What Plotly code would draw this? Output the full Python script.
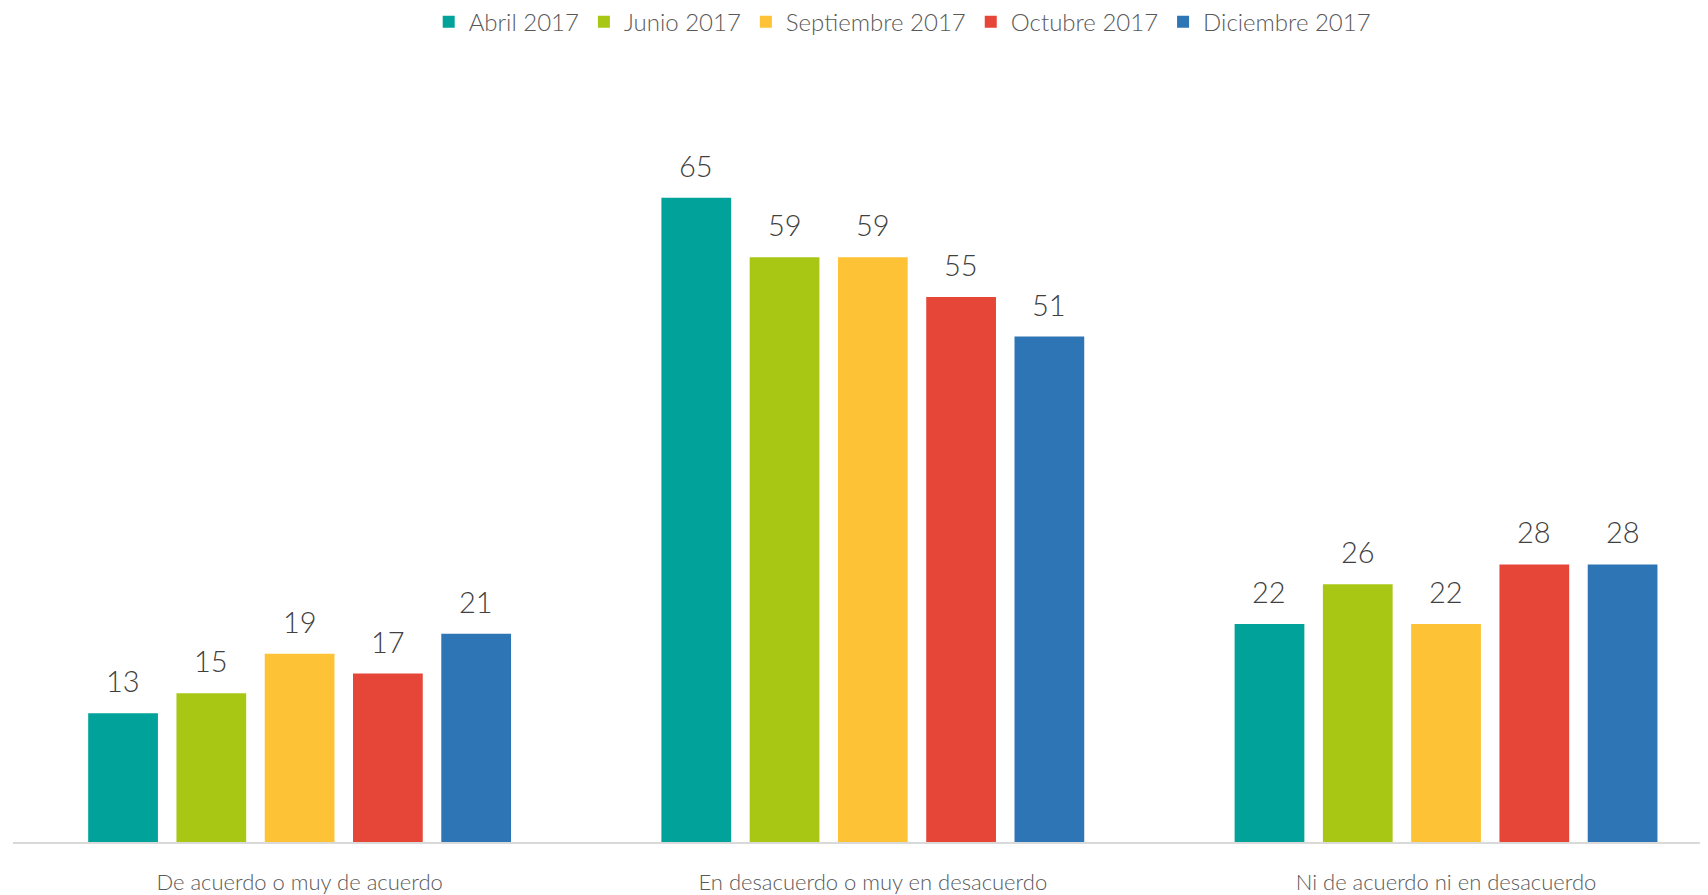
import plotly.graph_objects as go

categories = ["De acuerdo o muy de acuerdo", "En desacuerdo o muy en desacuerdo", "Ni de acuerdo ni en desacuerdo"]
series_names = ["Abril 2017", "Junio 2017", "Septiembre 2017", "Octubre 2017", "Diciembre 2017"]
abril = [13, 65, 22]
junio = [15, 59, 26]
septiembre = [19, 59, 22]
octubre = [17, 55, 28]
diciembre = [21, 51, 28]
series_values = [abril, junio, septiembre, octubre, diciembre]
colors = ["#00A29A", "#A8C715", "#FDC236", "#E64637", "#2E75B5"]

FONT = "Lato"
bargap = 0.23
bargroupgap = 0.21
n = len(series_names)

fig = go.Figure()
for name, vals, col in zip(series_names, series_values, colors):
    fig.add_trace(go.Bar(name=name, x=categories, y=vals, marker=dict(color=col, line=dict(width=0)),
                         hoverinfo="x+y+name"))

# data labels above bars, positioned via the category axis
slot = (1 - bargap) / n
annotations = []
for j, vals in enumerate(series_values):
    for i, v in enumerate(vals):
        annotations.append(dict(x=i + (j - (n - 1) / 2) * slot, y=v, xref="x", yref="y",
                                text=str(v), showarrow=False, yanchor="bottom", yshift=13,
                                font=dict(family=FONT, size=29, color="#404040", weight=300)))

# the page body adds an 8px margin, so the figure is sized to fit within the window
fig.update_layout(
    width=1700, height=887,
    margin=dict(l=5, r=0, t=52, b=46),
    paper_bgcolor="white", plot_bgcolor="white",
    barmode="group", bargap=bargap, bargroupgap=bargroupgap,
    font=dict(family=FONT, color="#595959"),
    legend=dict(orientation="h", xref="container", yref="container", x=0.526, y=0.984,
                xanchor="center", yanchor="middle",
                font=dict(family=FONT, size=24, color="#595959", weight=300),
                itemclick=False, traceorder="normal"),
    xaxis=dict(range=[-0.5, 2.457], showline=True, linecolor="#D9D9D9", linewidth=2,
               ticks="", ticklabelstandoff=20,
               tickfont=dict(family=FONT, size=22, color="#595959", weight=300),
               showgrid=False, zeroline=False, fixedrange=True),
    yaxis=dict(range=[0, 78.9], visible=False, showgrid=False, zeroline=False, fixedrange=True),
    annotations=annotations,
)

fig.write_html("out.html")
